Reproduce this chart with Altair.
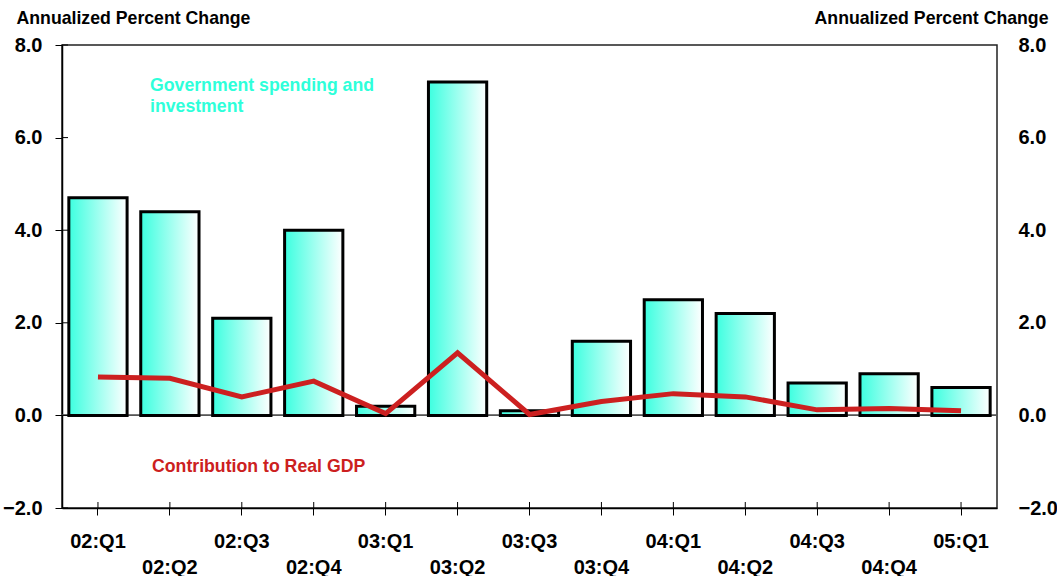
import altair as alt
import pandas as pd

# Quarterly series
quarters = ["02:Q1", "02:Q2", "02:Q3", "02:Q4", "03:Q1", "03:Q2", "03:Q3",
            "03:Q4", "04:Q1", "04:Q2", "04:Q3", "04:Q4", "05:Q1"]
gov_spending = [4.7, 4.4, 2.1, 4.0, 0.2, 7.2, 0.1, 1.6, 2.5, 2.2, 0.7, 0.9, 0.6]
gdp_contribution = [0.83, 0.8, 0.4, 0.74, 0.04, 1.35, 0.02, 0.3, 0.47, 0.4, 0.12, 0.15, 0.1]
y_ticks = [-2, 0, 2, 4, 6, 8]

FONT = "Liberation Sans, Arial, Helvetica, sans-serif"
CYAN = "#3CFFE0"
TEXT_CYAN = "#2EFFDA"
RED = "#CC2020"
Y_DOMAIN = [-2, 8]

df = pd.DataFrame({"quarter": quarters, "gov": gov_spending, "gdp": gdp_contribution})
ticks_df = pd.DataFrame({"v": y_ticks})

x_enc = alt.X(
    "quarter:N",
    sort=quarters,
    scale=alt.Scale(paddingInner=0.19, paddingOuter=0.095),
    axis=alt.Axis(
        title=None,
        labelAngle=0,
        labelFont=FONT,
        labelFontSize=20,
        labelFontWeight="bold",
        labelColor="black",
        labelExpr="test(/Q[24]$/, datum.label) ? ['', datum.label] : datum.label",
        labelLineHeight=26,
        labelBaseline="alphabetic",
        labelPadding=32,
        labelOverlap=False,
        tickSize=7,
        tickColor="black",
        tickWidth=1,
        domainColor="black",
        domainWidth=1.5,
    ),
)

left_axis = alt.Axis(
    values=y_ticks,
    format=".1f",
    grid=False,
    labelFont=FONT,
    labelFontSize=20,
    labelFontWeight="bold",
    labelColor="black",
    labelPadding=13,
    tickSize=7,
    tickColor="black",
    tickWidth=1,
    domainColor="black",
    domainWidth=1.5,
    title="Annualized Percent Change",
    titleAngle=0,
    titleAlign="left",
    titleBaseline="alphabetic",
    titleX=-46,
    titleY=-22,
    titleFont=FONT,
    titleFontSize=17.7,
    titleFontWeight="bold",
    titleColor="black",
)

right_axis = alt.Axis(
    orient="right",
    values=y_ticks,
    format=".1f",
    grid=False,
    ticks=False,
    domain=False,
    labelFont=FONT,
    labelFontSize=20,
    labelFontWeight="bold",
    labelColor="black",
    labelPadding=21,
    title="Annualized Percent Change",
    titleAngle=0,
    titleAlign="right",
    titleBaseline="alphabetic",
    titleX=51,
    titleY=-22,
    titleFont=FONT,
    titleFontSize=17.7,
    titleFontWeight="bold",
    titleColor="black",
)

base = alt.Chart(df)

zero_line = base.mark_rule(color="#555555", strokeWidth=1).encode(
    y=alt.Y(datum=0, scale=alt.Scale(domain=Y_DOMAIN), axis=None)
)

gradient = alt.LinearGradient(
    gradient="linear",
    stops=[alt.GradientStop(color=CYAN, offset=0),
           alt.GradientStop(color="white", offset=1)],
    x1=0, x2=1, y1=0, y2=0,
)

bars = base.mark_bar(fill=gradient, stroke="black", strokeWidth=3).encode(
    x=x_enc,
    y=alt.Y("gov:Q", scale=alt.Scale(domain=Y_DOMAIN), axis=left_axis),
)

line = base.mark_line(color=RED, strokeWidth=5).encode(
    x=alt.X("quarter:N", sort=quarters),
    y=alt.Y("gdp:Q", scale=alt.Scale(domain=Y_DOMAIN), axis=right_axis),
)

# inner halves of the axis ticks (ticks cross the axis lines)
x_stubs = base.mark_rule(color="black", strokeWidth=1).encode(
    x=alt.X("quarter:N", sort=quarters),
    y=alt.value(457),
    y2=alt.value(463),
)

y_stubs = alt.Chart(ticks_df).mark_rule(color="black", strokeWidth=1).encode(
    y=alt.Y("v:Q", scale=alt.Scale(domain=Y_DOMAIN), axis=None),
    x=alt.value(0),
    x2=alt.value(6),
)

gov_label = alt.Chart(pd.DataFrame({"t": [0]})).mark_text(
    text=["Government spending and", "investment"],
    font=FONT, fontSize=17.7, fontWeight="bold", color=TEXT_CYAN,
    align="left", baseline="alphabetic", lineHeight=21,
).encode(x=alt.value(88), y=alt.value(46))

gdp_label = alt.Chart(pd.DataFrame({"t": [0]})).mark_text(
    text="Contribution to Real GDP",
    font=FONT, fontSize=17.7, fontWeight="bold", color=RED,
    align="left", baseline="alphabetic",
).encode(x=alt.value(90), y=alt.value(427))

chart = (
    alt.layer(zero_line, bars, line, x_stubs, y_stubs, gov_label, gdp_label)
    .resolve_scale(y="independent")
    .properties(
        width=935,
        height=463,
        autosize=alt.AutoSizeParams(type="none"),
        padding={"left": 62, "top": 45, "right": 60, "bottom": 68},
        background="white",
    )
    .configure_view(stroke="#222222", strokeWidth=1.5)
)

chart.save("out.html", embed_options={"renderer": "svg", "actions": False})
